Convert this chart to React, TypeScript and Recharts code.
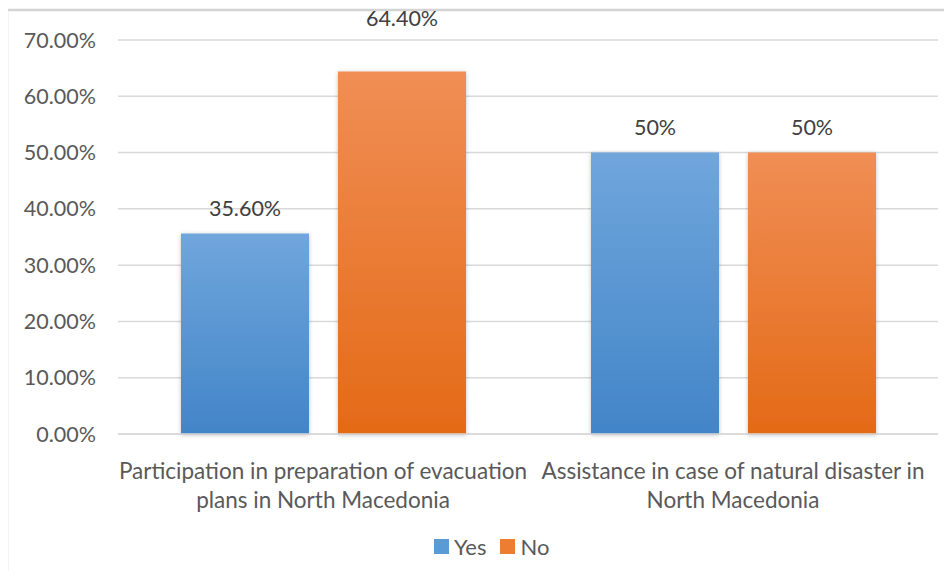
import { BarChart, Bar, XAxis, YAxis, CartesianGrid, LabelList } from "recharts";

const categoryLines = [
  ["Participation in preparation of evacuation", "plans in North Macedonia"],
  ["Assistance in case of natural disaster in", "North Macedonia"]
];
const yesValues = [35.6, 50];
const noValues = [64.4, 50];
const yesLabels = ["35.60%", "50%"];
const noLabels = ["64.40%", "50%"];
const yTicks = [0, 10, 20, 30, 40, 50, 60, 70];

const FONT = "Lato, 'Open Sans', sans-serif";
const TEXT = "#595959";
const FS = 21.5;

const data = categoryLines.map((lines, i) => ({
  name: String(i),
  yes: yesValues[i],
  no: noValues[i],
  yesLabel: yesLabels[i],
  noLabel: noLabels[i]
}));

function CategoryTick(props: any) {
  const { x, y, payload } = props;
  const lines = categoryLines[Number(payload.value)];
  return (
    <g transform={`translate(${x},${y})`}>
      {lines.map((l, i) => (
        <text
          key={i}
          x={0}
          y={31 + i * 29}
          textAnchor="middle"
          dominantBaseline="middle"
          fill={TEXT}
          fontSize={22.5}
          fontFamily={FONT}
        >
          {l}
        </text>
      ))}
    </g>
  );
}

// the data labels in the original sit ~24px over the bar; the tallest one was dragged higher
function makeLabel(lift: (v: number) => number) {
  return (props: any) => {
    const { x, y, width, value } = props;
    return (
      <text
        x={x + width / 2}
        y={y - lift(Number(String(value).replace("%", "")))}
        textAnchor="middle"
        dominantBaseline="middle"
        fill="#404040"
        fontSize={FS}
        fontFamily={FONT}
      >
        {value}
      </text>
    );
  };
}

function LegendItem({ label, color }: { label: string; color: string }) {
  return (
    <div style={{ display: "flex", alignItems: "center", marginRight: 14 }}>
      <span style={{ width: 15, height: 15, background: color, display: "inline-block", marginRight: 5 }} />
      <span style={{ color: TEXT, fontSize: 22, fontFamily: FONT }}>{label}</span>
    </div>
  );
}

export default function App() {
  return (
    <div style={{ position: "relative", width: 952, height: 579, margin: -8, overflow: "hidden", background: "#fff" }}>
      <div style={{ position: "absolute", left: 0, top: 0 }}>
        <BarChart
          width={952}
          height={579}
          data={data}
          margin={{ top: 40, right: 14, bottom: 65, left: 0 }}
          barCategoryGap={62}
          barGap={29}
          barSize={128}
        >
          <defs>
            <linearGradient id="gYes" x1="0" y1="0" x2="0" y2="1">
              <stop offset="0%" stopColor="#70a6dc" />
              <stop offset="100%" stopColor="#4285c8" />
            </linearGradient>
            <linearGradient id="gNo" x1="0" y1="0" x2="0" y2="1">
              <stop offset="0%" stopColor="#f08e55" />
              <stop offset="100%" stopColor="#e46a17" />
            </linearGradient>
            <filter id="shadow" x="-10%" y="-10%" width="120%" height="120%">
              <feDropShadow dx="0" dy="1" stdDeviation="2" floodColor="#000" floodOpacity="0.25" />
            </filter>
          </defs>
          {/* chart frame; its right and bottom edges fall outside the crop */}
          <line x1={7} y1={10} x2={7} y2={579} stroke="#d4d4d4" strokeWidth={2.5} />
          <line x1={7} y1={10} x2={952} y2={10} stroke="#d4d4d4" strokeWidth={2.5} />
          {/* cut-off text from the page above */}
          <text x={193} y={-4} fontFamily="'Liberation Serif', serif" fontSize={20} fill="#000">
            y
          </text>
          <CartesianGrid vertical={false} stroke="#d9d9d9" strokeWidth={1.5} />
          <XAxis
            dataKey="name"
            tickLine={false}
            axisLine={{ stroke: "#d9d9d9", strokeWidth: 1.5 }}
            tick={<CategoryTick />}
            interval={0}
            height={80}
          />
          <YAxis
            domain={[0, 70]}
            ticks={yTicks}
            tickFormatter={(v: number) => `${v.toFixed(2)}%`}
            axisLine={false}
            tickLine={false}
            tickMargin={16}
            width={118}
            tick={{ fill: TEXT, fontSize: FS, fontFamily: FONT }}
          />
          <Bar dataKey="yes" fill="url(#gYes)" filter="url(#shadow)" isAnimationActive={false}>
            <LabelList dataKey="yesLabel" content={makeLabel(() => 23)} />
          </Bar>
          <Bar dataKey="no" fill="url(#gNo)" filter="url(#shadow)" isAnimationActive={false}>
            <LabelList dataKey="noLabel" content={makeLabel((v) => (v > 60 ? 51 : 23))} />
          </Bar>
        </BarChart>
      </div>
      <div style={{ position: "absolute", left: 434, top: 533, display: "flex", alignItems: "center", height: 26 }}>
        <LegendItem label="Yes" color="#5b9bd5" />
        <LegendItem label="No" color="#ed7d31" />
      </div>
    </div>
  );
}
